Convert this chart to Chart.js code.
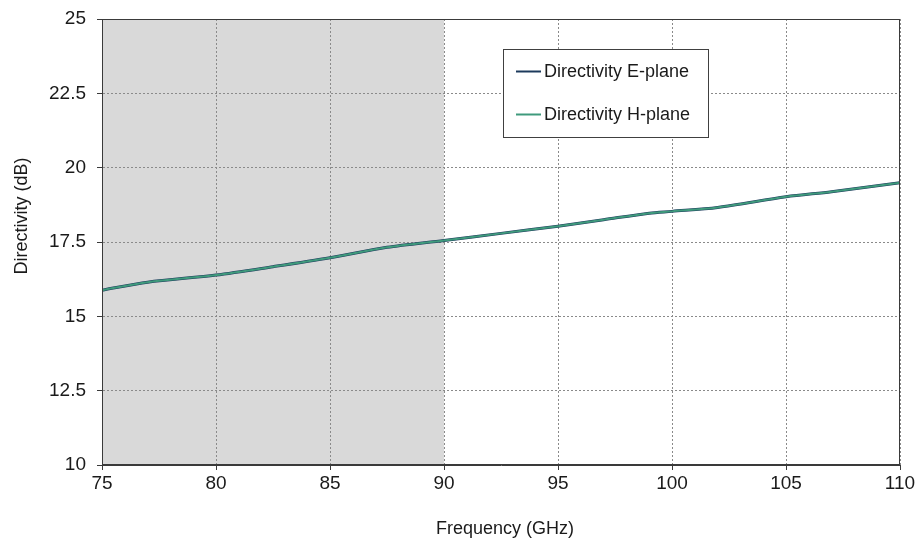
<!DOCTYPE html>
<html>
<head>
<meta charset="utf-8">
<script src="https://cdn.jsdelivr.net/npm/chart.js@4/dist/chart.umd.min.js"></script>
<style>
  html, body { margin: 0; padding: 0; background: #ffffff; }
  #wrap { width: 920px; height: 544px; }
</style>
</head>
<body>
<div id="wrap"><canvas id="c" width="920" height="544"></canvas></div>
<script>
// Frequency samples (GHz)
const frequency = [75, 77, 80, 82.5, 85, 87.5, 90, 92.5, 95, 97, 99, 100, 102, 105, 107, 110];
// Directivity in the E-plane (dB)
const directivityE = [15.88, 16.15, 16.39, 16.67, 16.97, 17.32, 17.55, 17.79, 18.03, 18.25, 18.47, 18.53, 18.66, 19.02, 19.19, 19.49];
// Directivity in the H-plane (dB)
const directivityH = [15.88, 16.15, 16.39, 16.67, 16.97, 17.32, 17.55, 17.79, 18.03, 18.25, 18.47, 18.53, 18.66, 19.02, 19.19, 19.49];
// Tick values
const xTicks = [75, 80, 85, 90, 95, 100, 105, 110];
const yTicks = [10, 12.5, 15, 17.5, 20, 22.5, 25];
// Shaded frequency band (GHz)
const band = [75, 90];

const FONT = "'Liberation Sans', Arial, sans-serif";

const toPoints = (ys) => frequency.map((f, i) => ({ x: f, y: ys[i] }));

const decorations = {
  id: 'decorations',
  beforeDraw(chart) {
    const { ctx, chartArea: a, scales } = chart;
    const x0 = scales.x.getPixelForValue(band[0]);
    const x1 = scales.x.getPixelForValue(band[1]);
    ctx.save();
    ctx.fillStyle = '#d9d9d9';
    ctx.fillRect(x0, a.top, x1 - x0, a.bottom - a.top);
    ctx.restore();
  },
  afterDraw(chart) {
    const { ctx, chartArea: a } = chart;
    ctx.save();
    // plot frame
    ctx.strokeStyle = '#3a3a3a';
    ctx.lineWidth = 1;
    ctx.strokeRect(Math.round(a.left) + 0.5, Math.round(a.top) + 0.5,
                   Math.round(a.right - a.left) - 1, Math.round(a.bottom - a.top) - 1);

    // axis titles
    ctx.fillStyle = '#1a1a1a';
    ctx.font = '18px ' + FONT;
    ctx.textAlign = 'center';
    ctx.textBaseline = 'middle';
    ctx.fillText('Frequency (GHz)', (a.left + a.right) / 2 + 4, 529);
    ctx.save();
    ctx.translate(22, 216);
    ctx.rotate(-Math.PI / 2);
    ctx.fillText('Directivity (dB)', 0, 0);
    ctx.restore();

    // legend box
    const bx = 503, by = 49, bw = 205, bh = 88;
    ctx.fillStyle = '#ffffff';
    ctx.fillRect(bx, by, bw, bh);
    ctx.strokeStyle = '#404040';
    ctx.strokeRect(bx + 0.5, by + 0.5, bw, bh);
    const rows = [71, 114];
    chart.data.datasets.forEach((ds, i) => {
      const y = rows[i];
      ctx.strokeStyle = ds.borderColor;
      ctx.lineWidth = 2;
      ctx.beginPath();
      ctx.moveTo(516, y + 0.5);
      ctx.lineTo(541, y + 0.5);
      ctx.stroke();
      ctx.fillStyle = '#1a1a1a';
      ctx.textAlign = 'left';
      ctx.textBaseline = 'middle';
      ctx.font = '18px ' + FONT;
      ctx.fillText(ds.label, 544, y + 1);
    });
    ctx.restore();
  }
};

new Chart(document.getElementById('c'), {
  type: 'line',
  data: {
    datasets: [
      {
        label: 'Directivity E-plane',
        data: toPoints(directivityE),
        borderColor: '#1d3a5c',
        borderWidth: 3,
        pointRadius: 0,
        tension: 0.3,
        fill: false,
        order: 2
      },
      {
        label: 'Directivity H-plane',
        data: toPoints(directivityH),
        borderColor: '#3f9a7c',
        borderWidth: 2,
        pointRadius: 0,
        tension: 0.3,
        fill: false,
        order: 1
      }
    ]
  },
  options: {
    responsive: false,
    animation: false,
    events: [],
    layout: { padding: { left: 0, right: 20, top: 19, bottom: 0 } },
    plugins: { legend: { display: false }, tooltip: { enabled: false } },
    scales: {
      x: {
        type: 'linear',
        min: 75, max: 110,
        afterBuildTicks(scale) { scale.ticks = xTicks.map(v => ({ value: v })); },
        afterFit(scale) { scale.height = 79; scale.paddingLeft = 0; scale.paddingRight = 0; },
        ticks: { font: { family: FONT, size: 19 }, color: '#1a1a1a', padding: 2, maxRotation: 0 },
        grid: { color: '#8a8a8a', lineWidth: 1, drawTicks: true, tickLength: 5, tickColor: '#3a3a3a' },
        border: { display: true, color: '#3a3a3a', dash: [2, 2] }
      },
      y: {
        type: 'linear',
        min: 10, max: 25,
        afterBuildTicks(scale) { scale.ticks = yTicks.map(v => ({ value: v })); },
        afterFit(scale) { scale.width = 102; scale.paddingTop = 0; scale.paddingBottom = 0; },
        ticks: { font: { family: FONT, size: 19 }, color: '#1a1a1a', padding: 11 },
        grid: { color: '#8a8a8a', lineWidth: 1, drawTicks: true, tickLength: 5, tickColor: '#3a3a3a' },
        border: { display: true, color: '#3a3a3a', dash: [2, 2] }
      }
    }
  },
  plugins: [decorations]
});
</script>
</body>
</html>
